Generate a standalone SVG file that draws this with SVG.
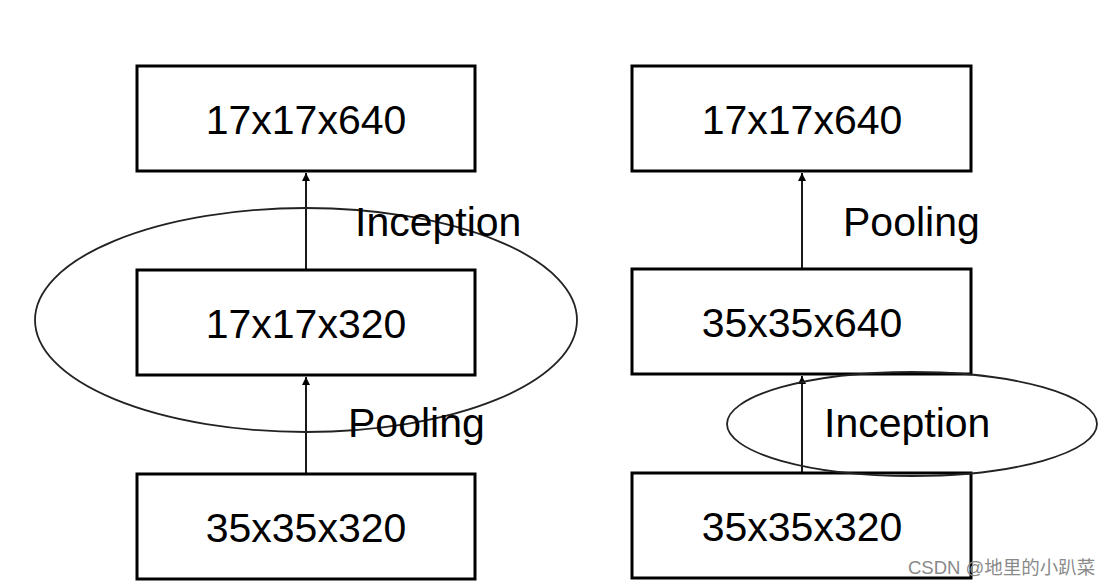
<svg xmlns="http://www.w3.org/2000/svg" width="1116" height="587" viewBox="0 0 1116 587">
<style>
.box{fill:none;stroke:#000;stroke-width:3}
.lbl{font-family:"Liberation Sans",Arial,sans-serif;font-size:41px;fill:#000}
.mid{text-anchor:middle}
.ell{fill:none;stroke:#222;stroke-width:1.8}
.conn{stroke:#000;stroke-width:1.8;fill:none;marker-end:url(#ah)}
.wm{font-family:"Liberation Sans","Noto Sans CJK SC",sans-serif;font-size:18.5px;fill:#8a8a8a}
</style>
<defs>
<marker id="ah" viewBox="0 0 10 10" refX="10" refY="5" markerWidth="11" markerHeight="8" markerUnits="userSpaceOnUse" orient="auto">
<path d="M0,0 L10,5 L0,10 Z" fill="#000"/>
</marker>
</defs>
<rect width="1116" height="587" fill="#fff"/>
<g id="connectors">
<line class="conn" x1="306" y1="474" x2="306" y2="377"/>
<line class="conn" x1="306" y1="270" x2="306" y2="173"/>
<line class="conn" x1="802" y1="269" x2="802" y2="173"/>
<line class="conn" x1="802" y1="473" x2="802" y2="376"/>
</g>
<g id="left-top"><rect class="box" x="137" y="66" width="338" height="105"/><text class="lbl mid" x="306" y="134">17x17x640</text></g>
<g id="left-mid"><rect class="box" x="137" y="270" width="338" height="105"/><text class="lbl mid" x="306" y="338">17x17x320</text></g>
<g id="left-bot"><rect class="box" x="137" y="474" width="338" height="105"/><text class="lbl mid" x="306" y="542">35x35x320</text></g>
<g id="left-ellipse"><ellipse class="ell" cx="306" cy="320" rx="271" ry="112"/></g>
<g id="left-labels">
<text class="lbl" x="355" y="236">Inception</text>
<text class="lbl" x="348" y="437">Pooling</text>
</g>
<g id="right-top"><rect class="box" x="632" y="66" width="339" height="105"/><text class="lbl mid" x="802" y="134">17x17x640</text></g>
<g id="right-mid"><rect class="box" x="632" y="269" width="339" height="105"/><text class="lbl mid" x="802" y="337">35x35x640</text></g>
<g id="right-bot"><rect class="box" x="632" y="473" width="339" height="105"/><text class="lbl mid" x="802" y="541">35x35x320</text></g>
<g id="right-ellipse"><ellipse class="ell" cx="912" cy="424" rx="185" ry="52"/></g>
<g id="right-labels">
<text class="lbl" x="843" y="236">Pooling</text>
<text class="lbl" x="824" y="437">Inception</text>
</g>
<text class="wm" x="908" y="574">CSDN @地里的小趴菜</text>
</svg>
